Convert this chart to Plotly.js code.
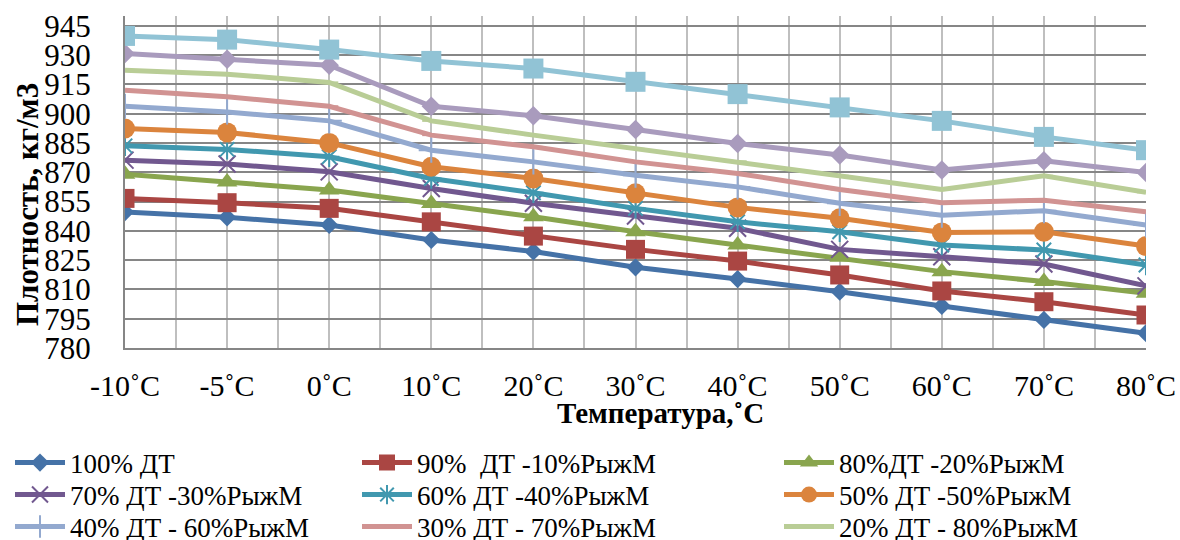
<!DOCTYPE html>
<html>
<head>
<meta charset="utf-8">
<script src="https://cdn.plot.ly/plotly-3.0.1.min.js"></script>
<style>html,body{margin:0;padding:0;background:#fff;}#chart{width:1180px;height:540px;}</style>
</head>
<body>
<div id="chart"></div>
<script>
// Categories (temperature)
const categories = ["-10˚C", "-5˚C", "0˚C", "10˚C", "20˚C", "30˚C", "40˚C", "50˚C", "60˚C", "70˚C", "80˚C"];

// Series names
const seriesNames = [
  "100% ДТ",
  "90%  ДТ -10%РыжМ",
  "80%ДТ -20%РыжМ",
  "70% ДТ -30%РыжМ",
  "60% ДТ -40%РыжМ",
  "50% ДТ -50%РыжМ",
  "40% ДТ - 60%РыжМ",
  "30% ДТ - 70%РыжМ",
  "20% ДТ - 80%РыжМ",
  "10% ДТ - 90%РыжМ",
  "100%РыжМ"
];

// Density values, kg/m3
const dt100   = [849.6, 846.9, 843.0, 835.3, 829.4, 821.3, 815.3, 808.8, 801.5, 794.4, 787.6];
const dt90    = [856.6, 854.4, 851.5, 844.6, 837.3, 830.5, 824.5, 817.4, 809.2, 803.7, 796.9];
const dt80    = [869.0, 865.0, 860.9, 854.0, 847.2, 839.5, 832.7, 826.5, 819.1, 814.0, 808.0];
const dt70    = [876.2, 874.2, 870.2, 861.7, 854.1, 847.6, 841.3, 830.5, 826.7, 823.0, 811.8];
const dt60    = [883.5, 881.7, 877.9, 866.8, 859.5, 851.5, 844.6, 839.5, 832.7, 830.2, 822.5];
const dt50    = [892.4, 890.4, 885.0, 872.8, 866.8, 859.2, 852.0, 846.4, 839.2, 839.5, 832.2];
const dt40    = [903.8, 900.9, 896.3, 881.3, 875.3, 868.5, 862.5, 854.1, 848.0, 850.3, 843.0];
const dt30    = [912.0, 908.6, 903.8, 889.0, 883.0, 875.3, 869.4, 861.2, 854.4, 855.7, 849.8];
const dt20    = [922.2, 920.2, 916.0, 896.3, 889.0, 882.0, 875.6, 868.2, 861.2, 868.2, 859.7];
const dt10    = [930.8, 927.9, 924.8, 903.8, 898.9, 891.9, 884.7, 878.8, 871.1, 875.9, 869.9];
const dt0     = [939.8, 937.9, 932.8, 927.0, 923.1, 916.3, 910.0, 903.2, 896.3, 888.1, 881.3];

const seriesValues = [dt100, dt90, dt80, dt70, dt60, dt50, dt40, dt30, dt20, dt10, dt0];

// Y tick values
const yTicks = [780, 795, 810, 825, 840, 855, 870, 885, 900, 915, 930, 945];

// Styles
const colors = ["#4572A7", "#AA4643", "#89A54E", "#71588F", "#4198AF", "#DB843D", "#93A9CF", "#D19392", "#B9CD96", "#A99BBD", "#91C3D5"];
const symbols = ["diamond", "square", "triangle-up", "x-thin-open", "asterisk-open", "circle", "cross-thin-open", "line-ew-open", "line-ew-open", "diamond", "square"];
const sizes = [14, 19, 18, 17, 17, 20, 18, 13, 13, 15, 20];

const FONT = "Liberation Serif, Times New Roman, serif";
const xIdx = categories.map((c, i) => i);

// legend grid: 3 columns x 3 rows, one small legend per entry
const legendColX = [10, 357, 779];
const legendRowY = [463, 495, 527];
const legendId = i => (i === 0 ? "legend" : "legend" + (i + 1));

const traces = seriesValues.map((vals, i) => ({
  type: "scatter",
  mode: "lines+markers",
  x: xIdx,
  y: vals,
  name: seriesNames[i],
  legend: i < 9 ? legendId(i) : "legend",
  showlegend: i < 9,
  line: { color: colors[i], width: 5 },
  marker: {
    symbol: symbols[i],
    size: sizes[i],
    color: colors[i],
    line: { color: colors[i], width: (symbols[i].indexOf("open") >= 0) ? 2 : 0 }
  },
  hoverinfo: "x+y+name"
}));

const halfTicks = [];
for (let i = 0; i < categories.length - 1; i++) halfTicks.push(i + 0.5);

const layout = {
  width: 1180,
  height: 540,
  margin: { l: 125, r: 34, t: 16, b: 192, autoexpand: false },
  paper_bgcolor: "#ffffff",
  plot_bgcolor: "#ffffff",
  font: { family: FONT, color: "#000" },
  showlegend: true,
  xaxis: {
    range: [0, 10],
    tickmode: "array",
    tickvals: xIdx,
    ticktext: categories,
    showgrid: true,
    gridcolor: "#BFBFBF",
    gridwidth: 2,
    minor: { tickmode: "array", tickvals: halfTicks, showgrid: true, gridcolor: "#BFBFBF", gridwidth: 2 },
    showline: true,
    linecolor: "#868686",
    linewidth: 2,
    ticks: "",
    ticklabelstandoff: 10,
    tickfont: { family: FONT, size: 30, color: "#000" },
    zeroline: false,
    automargin: false,
    fixedrange: true
  },
  yaxis: {
    range: [780, 950],
    tickmode: "array",
    tickvals: yTicks,
    ticktext: yTicks.map(String),
    showgrid: true,
    gridcolor: "#868686",
    gridwidth: 2,
    showline: true,
    linecolor: "#868686",
    linewidth: 2,
    ticks: "",
    ticklabelstandoff: 26,
    tickfont: { family: FONT, size: 31, color: "#000" },
    zeroline: false,
    automargin: false,
    fixedrange: true
  },
  annotations: [
    {
      text: "<b>Плотность, кг/м3</b>",
      xref: "paper", yref: "paper",
      x: (27 - 125) / 1021, y: (348 - 205) / 332,
      xanchor: "center", yanchor: "middle",
      textangle: -90,
      showarrow: false,
      font: { family: FONT, size: 31, color: "#000" }
    },
    {
      text: "<b>Температура,˚С</b>",
      xref: "paper", yref: "paper",
      x: (660 - 125) / 1021, y: (348 - 413) / 332,
      xanchor: "center", yanchor: "middle",
      showarrow: false,
      font: { family: FONT, size: 29, color: "#000" }
    }
  ]
};

for (let i = 0; i < 9; i++) {
  layout[legendId(i)] = {
    orientation: "v",
    xref: "container",
    yref: "container",
    x: legendColX[i % 3] / 1180,
    y: (540 - legendRowY[Math.floor(i / 3)]) / 540,
    xanchor: "left",
    yanchor: "middle",
    bgcolor: "rgba(0,0,0,0)",
    font: { family: FONT, size: 27, color: "#000" },
    itemwidth: 50,
    tracegroupgap: 0
  };
}

Plotly.newPlot("chart", traces, layout, { displayModeBar: false, staticPlot: true });
</script>
</body>
</html>
